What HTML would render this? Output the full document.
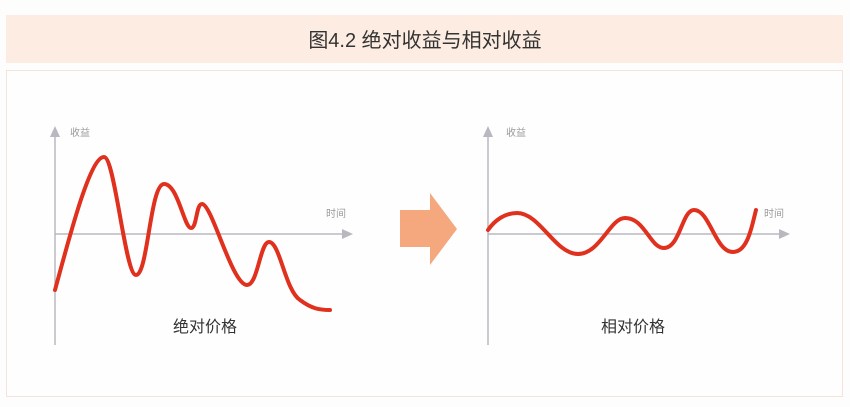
<!DOCTYPE html>
<html><head><meta charset="utf-8"><style>
body{margin:0;width:850px;height:402px;background:#fdfdfd;overflow:hidden;font-family:"Liberation Sans","Noto Sans CJK SC",sans-serif}
</style></head><body>
<svg width="850" height="402" xmlns="http://www.w3.org/2000/svg">
<rect x="6" y="15" width="837" height="48" fill="#fdece2"/>
<text x="425" y="47" text-anchor="middle" font-size="20" fill="#333" font-family="Liberation Sans,Noto Sans CJK SC,sans-serif">图4.2 绝对收益与相对收益</text>
<rect x="6.5" y="70.5" width="836" height="326" fill="#fefefe" stroke="#f3e3d8"/>
<g stroke="#b8b8c0" stroke-width="1.5" fill="none">
<line x1="55" y1="135" x2="55" y2="345"/><line x1="55" y1="234" x2="345" y2="234"/>
<line x1="488" y1="135" x2="488" y2="345"/><line x1="488" y1="234" x2="782" y2="234"/>
</g>
<g fill="#b8b8c0">
<polygon points="55,126 50,137 60,137"/><polygon points="353,234 342,229 342,239"/>
<polygon points="488,126 483,137 493,137"/><polygon points="790,234 779,229 779,239"/>
</g>
<g font-size="10" fill="#999" font-family="Liberation Sans,Noto Sans CJK SC,sans-serif">
<text x="70" y="136">收益</text><text x="326" y="217">时间</text>
<text x="506" y="136">收益</text><text x="764" y="217">时间</text>
</g>
<path d="M55,290 C70,235 90,157 104,157 C115,157 125,275 136,275 C148,275 150,184 164,184 C178,184 184,228 191,228 C197,228 196,204 202,204 C212,204 232,285 247,285 C258,285 260,242 269,242 C280,242 285,290 300,300 C312,309 320,310 330,310" fill="none" stroke="#e0301e" stroke-width="4" stroke-linecap="round"/>
<path d="M488,230 C495,220 505,213 517,213 C540,213 555,254 578,254 C600,254 610,218 625,218 C645,218 650,248 664,248 C680,248 682,210 694,210 C710,210 715,252 733,252 C748,252 752,225 756,210" fill="none" stroke="#e0301e" stroke-width="4" stroke-linecap="round"/>
<polygon points="400,210 430,210 430,193 457,229 430,265 430,247 400,247" fill="#f5a77d"/>
<g font-size="16" fill="#333" text-anchor="middle" font-family="Liberation Sans,Noto Sans CJK SC,sans-serif">
<text x="205" y="332">绝对价格</text><text x="633" y="332">相对价格</text>
</g>
</svg>
</body></html>
